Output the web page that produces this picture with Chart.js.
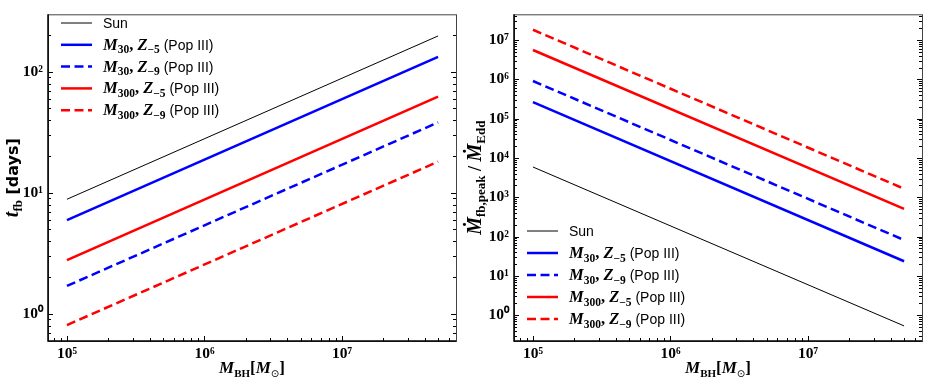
<!DOCTYPE html>
<html>
<head>
<meta charset="utf-8">
<script src="https://cdn.jsdelivr.net/npm/chart.js@4.4.0/dist/chart.umd.min.js"></script>
<style>
    html, body { margin: 0; padding: 0; background: #fff; }
    #wrap { position: relative; width: 926px; height: 381px; }
    canvas { position: absolute; top: 0; }
</style>
</head>
<body>
<div id="wrap">
    <canvas id="chart-tfb" width="460" height="381" style="left:0"></canvas>
    <canvas id="chart-mdot" width="466" height="381" style="left:460px"></canvas>
</div>
<script>
// black hole mass at both ends of every line [Msun]
var massBH = [1e5, 5e7];

// fallback time [days]
var tfbSun = [8.85, 198];
var tfbM30Z5 = [5.95, 133];
var tfbM30Z9 = [1.70, 38.2];
var tfbM300Z5 = [2.78, 62.5];
var tfbM300Z9 = [0.807, 18.1];

// peak fallback rate / Eddington rate
var mdotSun = [5.9e3, 0.535];
var mdotM30Z5 = [2.63e5, 23.6];
var mdotM30Z9 = [9.1e5, 82];
var mdotM300Z5 = [5.59e6, 505];
var mdotM300Z9 = [1.83e7, 1650];

// axis ranges
var xRange = [7.28e4, 6.75e7];
var tfbRange = [0.596, 299];
var mdotRange = [0.221, 4.53e7];

// legend labels, split in pieces: [text, style]
var labelSun = [['Sun', 'sans']];
var labelM30Z5 = [['M', 'mi'], ['30', 'sub'], [', ', 'mr'], ['Z', 'mi'], ['\u22125', 'sub'], [' (Pop III)', 'sans']];
var labelM30Z9 = [['M', 'mi'], ['30', 'sub'], [', ', 'mr'], ['Z', 'mi'], ['\u22129', 'sub'], [' (Pop III)', 'sans']];
var labelM300Z5 = [['M', 'mi'], ['300', 'sub'], [', ', 'mr'], ['Z', 'mi'], ['\u22125', 'sub'], [' (Pop III)', 'sans']];
var labelM300Z9 = [['M', 'mi'], ['300', 'sub'], [', ', 'mr'], ['Z', 'mi'], ['\u22129', 'sub'], [' (Pop III)', 'sans']];

var titleX = [['M', 'big'], ['BH', 'bsub'], ['[', 'bigr'], ['M', 'big'], ['\u2299', 'osub'], [']', 'bigr']];
var titleTfb = [['t', 'ybig'], ['fb', 'ysub'], [' [days]', 'bsans']];
var titleMdot = [['\u1E40', 'ybig'], ['fb,peak', 'ysub'], [' / ', 'ybigr'], ['\u1E40', 'ybig'], ['Edd', 'ysub']];

var STYLES = {
    sans:  { font: '14px "Liberation Sans"', dy: 0 },
    mi:    { font: 'italic bold 16.5px "Liberation Serif"', dy: 0 },
    mr:    { font: 'bold 16.5px "Liberation Serif"', dy: 0 },
    sub:   { font: 'bold 11.5px "Liberation Serif"', dy: 3.5 },
    big:   { font: 'italic bold 17px "Liberation Serif"', dy: 0 },
    bigr:  { font: 'bold 17px "Liberation Serif"', dy: 0 },
    bsub:  { font: 'bold 11px "Liberation Serif"', dy: 3.5 },
    osub:  { font: '10px "DejaVu Sans"', dy: 3.5 },
    ybig:  { font: 'italic bold 20px "Liberation Serif"', dy: 0 },
    ybigr: { font: 'bold 18px "Liberation Serif"', dy: 0 },
    ysub:  { font: 'bold 13px "Liberation Serif"', dy: 4 },
    bsans: { font: 'bold 16px "DejaVu Sans"', dy: 0 }
};

var SUP = { '0': '\u2070', '1': '\u00B9', '2': '\u00B2', '3': '\u00B3', '4': '\u2074',
            '5': '\u2075', '6': '\u2076', '7': '\u2077', '8': '\u2078', '9': '\u2079', '-': '\u207B' };

function drawRich(ctx, segs, x, y, align) {
    var w = 0;
    segs.forEach(function (s) {
        ctx.font = STYLES[s[1]].font;
        w += ctx.measureText(s[0]).width;
    });
    var cx = (align === 'center') ? x - w / 2 : x;
    ctx.textAlign = 'left';
    ctx.textBaseline = 'alphabetic';
    ctx.fillStyle = '#000';
    segs.forEach(function (s) {
        var st = STYLES[s[1]];
        ctx.font = st.font;
        ctx.fillText(s[0], cx, y + st.dy);
        cx += ctx.measureText(s[0]).width;
    });
}

function isDecade(v) {
    var l = Math.log10(v);
    return Math.abs(l - Math.round(l)) < 1e-9;
}

function logTicks(min, max) {
    var out = [];
    for (var k = Math.floor(Math.log10(min)); k <= Math.ceil(Math.log10(max)); k++) {
        for (var m = 1; m <= 9; m++) {
            var v = m * Math.pow(10, k);
            if (v >= min && v <= max)
                out.push({ value: v });
        }
    }
    return out;
}

function decadeLabel(value) {
    if (!isDecade(value))
        return '';
    var e = String(Math.round(Math.log10(value)));
    return '10' + e.split('').map(function (c) { return SUP[c]; }).join('');
}

function points(ys) {
    return massBH.map(function (m, i) {
        return { x: m, y: ys[i] };
    });
}

function makeDatasets(sun, a, b, c, d) {
    return [
        { label: 'Sun', data: points(sun), borderColor: '#000', borderWidth: 1, rich: labelSun },
        { label: 'M30, Z-5 (Pop III)', data: points(a), borderColor: '#0000ff', borderWidth: 2.5, rich: labelM30Z5 },
        { label: 'M30, Z-9 (Pop III)', data: points(b), borderColor: '#0000ff', borderWidth: 2.5, borderDash: [9, 4.5], rich: labelM30Z9 },
        { label: 'M300, Z-5 (Pop III)', data: points(c), borderColor: '#ff0000', borderWidth: 2.5, rich: labelM300Z5 },
        { label: 'M300, Z-9 (Pop III)', data: points(d), borderColor: '#ff0000', borderWidth: 2.5, borderDash: [9, 4.5], rich: labelM300Z9 }
    ];
}

// frame, inward ticks, axis titles and legend
var decorations = {
    id: 'decorations',
    afterDraw: function (chart, args, opts) {
        var ctx = chart.ctx;
        var a = chart.chartArea;
        var xs = chart.scales.x, ys = chart.scales.y;
        ctx.save();

        // ticks
        ctx.strokeStyle = '#000';
        ctx.lineWidth = 1;
        ctx.beginPath();
        xs.ticks.forEach(function (t) {
            var px = Math.round(xs.getPixelForValue(t.value)) + 0.5;
            var len = isDecade(t.value) ? 5 : 3;
            ctx.moveTo(px, a.bottom);
            ctx.lineTo(px, a.bottom - len);
        });
        ys.ticks.forEach(function (t) {
            var py = Math.round(ys.getPixelForValue(t.value)) + 0.5;
            var len = isDecade(t.value) ? 5 : 3;
            ctx.moveTo(a.left, py);
            ctx.lineTo(a.left + len, py);
            ctx.moveTo(a.right, py);
            ctx.lineTo(a.right - len, py);
        });
        ctx.stroke();

        // frame
        ctx.strokeStyle = '#444';
        ctx.lineWidth = 1;
        ctx.strokeRect(a.left + 0.5, a.top + 0.5, a.right - a.left, a.bottom - a.top);
        ctx.strokeStyle = '#000';
        ctx.lineWidth = 1.5;
        ctx.beginPath();
        ctx.moveTo(a.left, a.top);
        ctx.lineTo(a.left, a.bottom);
        ctx.lineTo(a.right, a.bottom);
        ctx.stroke();

        // axis titles
        drawRich(ctx, titleX, (a.left + a.right) / 2, 373, 'center');
        ctx.save();
        ctx.translate(opts.yTitleX, (a.top + a.bottom) / 2);
        ctx.rotate(-Math.PI / 2);
        drawRich(ctx, opts.yTitle, 0, 0, 'center');
        ctx.restore();

        // legend
        chart.data.datasets.forEach(function (ds, i) {
            var y = opts.legendTop + i * opts.legendStep;
            ctx.save();
            ctx.strokeStyle = ds.borderColor;
            ctx.lineWidth = ds.borderWidth;
            ctx.setLineDash(ds.borderDash || []);
            ctx.beginPath();
            ctx.moveTo(opts.legendX, y);
            ctx.lineTo(opts.legendX + 31, y);
            ctx.stroke();
            ctx.restore();
            drawRich(ctx, ds.rich, opts.legendX + 42, y + 5, 'left');
        });

        ctx.restore();
    }
};

function makeChart(id, datasets, yRange, yWidth, deco) {
    var tickFont = { family: '"Liberation Serif"', size: 15.5, weight: 'bold' };
    return new Chart(document.getElementById(id), {
        type: 'line',
        data: { datasets: datasets },
        plugins: [decorations],
        options: {
            responsive: false,
            animation: false,
            events: [],
            layout: { padding: { top: 3, right: 4, left: 0, bottom: 0 } },
            elements: { point: { radius: 0 }, line: { tension: 0, borderCapStyle: 'butt' } },
            plugins: {
                legend: { display: false },
                tooltip: { enabled: false },
                decorations: deco
            },
            scales: {
                x: {
                    type: 'logarithmic',
                    min: xRange[0],
                    max: xRange[1],
                    grid: { display: false, drawTicks: false },
                    border: { display: false },
                    afterBuildTicks: function (s) { s.ticks = logTicks(s.min, s.max); },
                    afterFit: function (s) { s.height = 40; },
                    ticks: {
                        autoSkip: false, maxRotation: 0, padding: 4,
                        color: '#000', font: tickFont,
                        callback: decadeLabel
                    }
                },
                y: {
                    type: 'logarithmic',
                    min: yRange[0],
                    max: yRange[1],
                    grid: { display: false, drawTicks: false },
                    border: { display: false },
                    afterBuildTicks: function (s) { s.ticks = logTicks(s.min, s.max); },
                    afterFit: function (s) { s.width = yWidth; },
                    ticks: {
                        autoSkip: false, padding: 5,
                        color: '#000', font: tickFont,
                        callback: decadeLabel
                    }
                }
            }
        }
    });
}

makeChart('chart-tfb',
    makeDatasets(tfbSun, tfbM30Z5, tfbM30Z9, tfbM300Z5, tfbM300Z9),
    tfbRange, 48,
    { yTitle: titleTfb, yTitleX: 18, legendX: 61, legendTop: 23, legendStep: 21.8 });

makeChart('chart-mdot',
    makeDatasets(mdotSun, mdotM30Z5, mdotM30Z9, mdotM300Z5, mdotM300Z9),
    mdotRange, 54,
    { yTitle: titleMdot, yTitleX: 21, legendX: 67, legendTop: 231, legendStep: 22 });
</script>
</body>
</html>
